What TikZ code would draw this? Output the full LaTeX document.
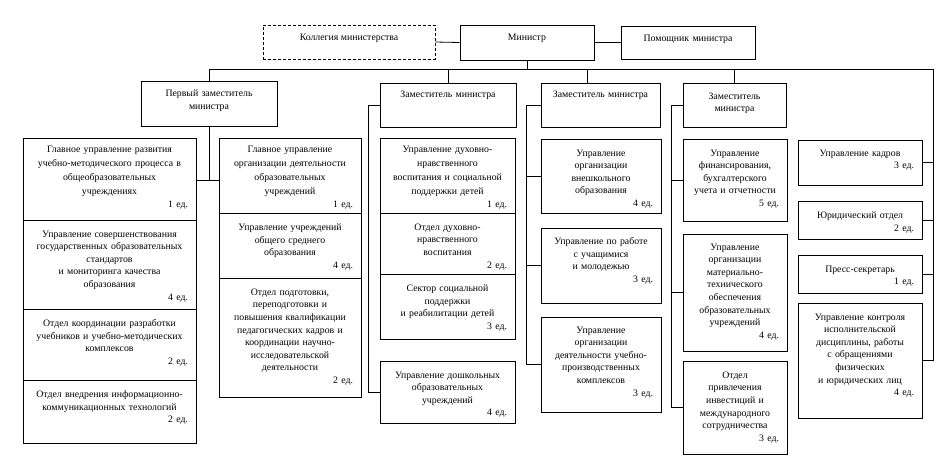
\documentclass[tikz,border=0pt]{standalone}
\usepackage{fontspec}
\setmainfont{Liberation Serif}
\tikzset{
  boxst/.style={draw, line width=0.9pt, inner sep=0pt, rectangle},
  dashbox/.style={boxst, dash pattern=on 3pt off 2pt},
  txt/.style={align=center, inner sep=0pt, font=\fontsize{9.8}{12.6}\selectfont},
  conn/.style={line width=0.8pt},
}
\newcommand{\ubox}[7][11]{%
  \pgfmathsetmacro{\bw}{#5-#3}\pgfmathsetmacro{\bh}{#6-#4}\pgfmathsetmacro{\tw}{#5-#3-6}%
  \node[boxst, minimum width=\bw pt, minimum height=\bh pt] (#2) at ({(#3+#5)/2},{(#4+#6)/2}) {};
  \node[txt, text width=\tw pt, anchor=north] (#2t) at ([yshift=-#1pt]#2.north) {#7};
}
\newcommand{\ed}[1]{\\\hfill#1~ед.\kern5pt}
\newcommand{\wide}{\fontsize{9.8}{14.2}\selectfont}
\begin{document}
\begin{tikzpicture}[x=1pt,y=-1pt]
\fill[white] (0,0) rectangle (948,469);
\useasboundingbox (0,0) rectangle (948,469);

% top row
\node[dashbox, minimum width=172pt, minimum height=34pt] (kol) at (349,42) {};
\node[txt, anchor=north] (kolt) at ([yshift=-9pt]kol.north) {Коллегия министерства};
\ubox[9]{min}{460}{25}{594}{60}{Министр}
\ubox[9]{pom}{621}{26}{755}{59}{Помощник министра}

% deputies
\ubox[9.5]{d1}{141}{81}{277}{126}{Первый заместитель\\министра}
\ubox[8]{d2}{380}{83}{516}{127}{Заместитель министра}
\ubox[8]{d3}{541}{83}{660}{127}{Заместитель министра}
\ubox[10]{d4}{683}{83}{786}{127}{Заместитель\\министра}

% column 1
\ubox[8]{u11}{23}{138}{196}{220}{\wide Главное управление развития\\учебно-методического процесса в\\общеобразовательных\\учреждениях\ed{1}}
\ubox{u12}{23}{220}{196}{309}{Управление совершенствования\\государственных образовательных\\стандартов\\и мониторинга качества\\образования\ed{4}}
\ubox{u13}{23}{309}{196}{380}{Отдел координации разработки\\учебников и учебно-методических\\комплексов\ed{2}}
\ubox{u14}{23}{380}{196}{443}{Отдел внедрения информационно-\\коммуникационных технологий\ed{2}}

% column 2
\ubox[8]{u21}{219}{138}{361}{213}{\wide Главное управление\\организации деятельности\\образовательных\\учреждений\ed{1}}
\ubox{u22}{219}{213}{361}{278}{Управление учреждений\\общего среднего\\образования\ed{4}}
\ubox[11]{u23}{219}{278}{361}{397}{Отдел подготовки,\\переподготовки и\\повышения квалификации\\педагогических кадров и\\координации научно-\\исследовательской\\деятельности\ed{2}}

% column 3
\ubox[8]{u31}{380}{138}{515}{213}{\wide Управление духовно-\\нравственного\\воспитания и социальной\\поддержки детей\ed{1}}
\ubox{u32}{380}{213}{515}{274}{Отдел духовно-\\нравственного\\воспитания\ed{2}}
\ubox{u33}{380}{274}{515}{339}{Сектор социальной\\поддержки\\и реабилитации детей\ed{3}}
\ubox{u34}{380}{361}{515}{423}{Управление дошкольных\\образовательных\\учреждений\ed{4}}

% column 4
\ubox{u41}{541}{139}{661}{213}{Управление\\организации\\внешкольного\\образования\ed{4}}
\ubox[10]{u42}{541}{228}{661}{303}{Управление по работе\\с учащимися\\и молодежью\ed{3}}
\ubox[10]{u43}{541}{317}{661}{412}{Управление\\организации\\деятельности учебно-\\производственных\\комплексов\ed{3}}

% column 5
\ubox{u51}{683}{139}{787}{221}{Управление\\финансирования,\\бухгалтерского\\учета и отчетности\ed{5}}
\ubox[10]{u52}{683}{234}{787}{351}{Управление\\организации\\материально-\\технического\\обеспечения\\образовательных\\учреждений\ed{4}}
\ubox{u53}{683}{361}{787}{454}{Отдел\\привлечения\\инвестиций и\\международного\\сотрудничества\ed{3}}

% column 6
\ubox[10]{u61}{798}{140}{922}{185}{Управление кадров\ed{3}}
\ubox{u62}{798}{201}{922}{239}{Юридический отдел\ed{2}}
\ubox{u63}{798}{255}{922}{293}{Пресс-секретарь\ed{1}}
\ubox{u64}{798}{303}{922}{418}{Управление контроля\\исполнительской\\дисциплины, работы\\с обращениями\\физических\\и юридических лиц\ed{4}}

% connectors
\coordinate (bus) at (0,69);
\coordinate (busR) at (933,69);
\coordinate (j1) at (0,180);
\draw[conn] (kol.east) -- (min.west);
\draw[conn] (min.east) -- (pom.west);
\draw[conn] (min.south) -- (min.south |- bus);
\draw[conn] (d1.north |- bus) -- (busR) |- (u64.east);
\draw[conn] (d1.north) -- (d1.north |- bus);
\draw[conn] (d2.north) -- (d2.north |- bus);
\draw[conn] ([xshift=-13pt]d3.north) -- ([xshift=-13pt]d3.north |- bus);
\draw[conn] (d4.north) -- (d4.north |- bus);
\draw[conn] (u61.east) -- (u61.east -| busR);
\draw[conn] (u62.east) -- (u62.east -| busR);
\draw[conn] (u63.east) -- (u63.east -| busR);

\draw[conn] (d1.south) -- (d1.south |- j1);
\draw[conn] (u11.east |- j1) -- (u21.west |- j1);

\draw[conn] (d2.west) -- ++(-11,0) |- (u34.west);

\draw[conn] (d3.west) -- ++(-14,0) coordinate (v3) |- (u43.west);
\draw[conn] (u41.west) -- (u41.west -| v3);
\draw[conn] (u42.west) -- (u42.west -| v3);

\draw[conn] (d4.west) -- ++(-11,0) coordinate (v4) |- (u53.west);
\draw[conn] (u51.west) -- (u51.west -| v4);
\draw[conn] (u52.west) -- (u52.west -| v4);
\end{tikzpicture}
\end{document}
